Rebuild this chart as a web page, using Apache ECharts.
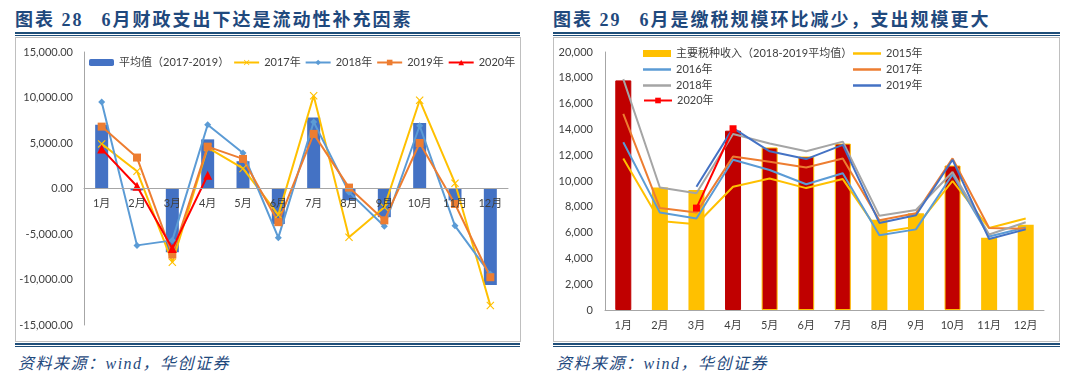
<!DOCTYPE html>
<html>
<head>
<meta charset="utf-8">
<script src="https://cdn.jsdelivr.net/npm/echarts@6/dist/echarts.min.js"></script>
<style>
  body { margin: 0; width: 1080px; height: 375px; background: #fff; position: relative; overflow: hidden; }
  .title { position: absolute; top: 5px; font: bold 18px "Liberation Serif", "Noto Sans CJK SC"; color: #1F497D; letter-spacing: 2px; white-space: nowrap; }
  .title .no { margin-right: 18px; }
  .rule { position: absolute; height: 0; }
  .box { position: absolute; top: 37px; height: 303px; border: 1px solid #BFBFBF; }
  .chart { position: absolute; top: 38px; width: 503px; height: 302px; }
  .src { position: absolute; top: 350px; font: italic 16px "Liberation Serif", "Noto Sans CJK SC"; color: #1F497D; letter-spacing: 1.5px; }
</style>
</head>
<body>
<div class="title" style="left:15px"><span class="no">图表 28</span>6月财政支出下达是流动性补充因素</div>
<div class="title" style="left:553px"><span class="no">图表 29</span>6月是缴税规模环比减少，支出规模更大</div>

<div class="rule" style="left:15px;width:505px;top:32px;border-top:2px solid #1F4E79"></div>
<div class="rule" style="left:15px;width:505px;top:35px;border-top:1px solid #1F4E79"></div>
<div class="rule" style="left:553px;width:507px;top:32px;border-top:2px solid #1F4E79"></div>
<div class="rule" style="left:553px;width:507px;top:35px;border-top:1px solid #1F4E79"></div>

<div class="box" style="left:15px;width:504px"></div>
<div class="box" style="left:553px;width:505px"></div>

<div class="rule" style="left:15px;width:505px;top:343px;border-top:2px solid #1F4E79"></div>
<div class="rule" style="left:15px;width:505px;top:346px;border-top:1px solid #1F4E79"></div>
<div class="rule" style="left:553px;width:507px;top:343px;border-top:2px solid #1F4E79"></div>
<div class="rule" style="left:553px;width:507px;top:346px;border-top:1px solid #1F4E79"></div>

<div id="left" class="chart" style="left:16px"></div>
<div id="right" class="chart" style="left:554px"></div>

<div class="src" style="left:18px">资料来源：wind，华创证券</div>
<div class="src" style="left:556px">资料来源：wind，华创证券</div>

<script>
// 月份
const months = ['1月', '2月', '3月', '4月', '5月', '6月', '7月', '8月', '9月', '10月', '11月', '12月'];

// 图表28：财政支出（亿元）
const avg1719 = [7000, -200, -7000, 5400, 3000, -3900, 7800, -1300, -3150, 7200, -1300, -10600];
const exp2017 = [4900, 1900, -8100, 4500, 2200, -2900, 10200, -5350, -2050, 9700, 580, -12850];
const exp2018 = [9500, -6250, -5700, 7000, 3900, -5400, 7300, -400, -4150, 6900, -4100, -9400];
const exp2019 = [6800, 3400, -7250, 4600, 3250, -3700, 6000, 100, -3500, 5000, -1700, -9750];
const exp2020 = [4350, 250, -6600, 1450];

// 图表29：主要税种收入（亿元）
const taxAvg = [17800, 9500, 9300, 13900, 12600, 11900, 12900, 7000, 7500, 11200, 5600, 6600];
const tax2015 = [11750, 6900, 6650, 9550, 10200, 9450, 10150, 6000, 6450, 10000, 6350, 7100];
const tax2016 = [13000, 7550, 7100, 11650, 10850, 9750, 10600, 5800, 6250, 10500, 5700, 6400];
const tax2017 = [15200, 7900, 7550, 11900, 11500, 11050, 11750, 6950, 7500, 11750, 6350, 6300];
const tax2018 = [17900, 9500, 9050, 13650, 12900, 12300, 13050, 7300, 7750, 10700, 5850, 6800];
const tax2019 = [null, null, 9550, 14100, 12300, 11700, 12800, 6750, 7350, 11650, 5500, 6250];
const tax2020 = [null, null, 7900, 14050];
// 缴税大月（柱子标红）
const bigMonths = [0, 3, 4, 5, 6, 9];

const FONT = 'Lato, "Noto Sans CJK SC", sans-serif';
const crossPath = 'path://M0,1L1,0L5,4L9,0L10,1L6,5L10,9L9,10L5,6L1,10L0,9L4,5Z';

/**
 * 图表28
 */
function initLeft() {
  const chart = echarts.init(document.getElementById('left'));
  const line = (name, data, color, symbol, size) => ({
    name: name,
    type: 'line',
    data: data,
    symbol: symbol,
    symbolSize: size,
    z: 3,
    lineStyle: { color: color, width: 2 },
    itemStyle: { color: color }
  });
  // 网格高 302-14-15=273，x轴挪到0刻度处
  let option = {
    animation: false,
    textStyle: { fontFamily: FONT },
    grid: { left: 68, right: 11, top: 14, bottom: 15 },
    legend: {
      left: 73,
      width: 430,
      top: 19,
      padding: 0,
      itemWidth: 25,
      itemHeight: 7,
      itemGap: 4,
      textStyle: { fontSize: 11, color: '#404040', fontFamily: FONT },
      data: ['平均值（2017-2019）', '2017年', '2018年', '2019年', '2020年']
    },
    xAxis: {
      type: 'category',
      data: months,
      offset: -136.5,
      z: 5,
      axisLine: { onZero: false, lineStyle: { color: '#A6A6A6' } },
      axisTick: { length: 4, lineStyle: { color: '#A6A6A6' } },
      axisLabel: { color: '#404040', fontSize: 11, margin: 9 }
    },
    yAxis: {
      type: 'value',
      min: -15000,
      max: 15000,
      interval: 5000,
      splitLine: { show: false },
      axisLine: { show: true, lineStyle: { color: '#A6A6A6' } },
      axisLabel: {
        color: '#404040',
        fontSize: 11,
        margin: 11,
        formatter: v => v.toLocaleString('en-US', { minimumFractionDigits: 2 })
      }
    },
    series: [
      {
        name: '平均值（2017-2019）',
        type: 'bar',
        data: avg1719,
        barWidth: 13,
        itemStyle: { color: '#4472C4' }
      },
      line('2017年', exp2017, '#FFC000', crossPath, 8),
      line('2018年', exp2018, '#5B9BD5', 'diamond', 7),
      line('2019年', exp2019, '#ED7D31', 'rect', 8),
      line('2020年', exp2020, '#FF0000', 'triangle', 9)
    ]
  };
  chart.setOption(option);
}

/**
 * 图表29
 */
function initRight() {
  const chart = echarts.init(document.getElementById('right'));
  const line = (name, data, color) => ({
    name: name,
    type: 'line',
    data: data,
    symbol: 'none',
    z: 3,
    lineStyle: { color: color, width: 2 },
    itemStyle: { color: color }
  });
  // 图例两列摆放：名称, left, top, 图标
  const legendPos = [
    ['主要税种收入（2018-2019平均值）', 89, 10, 'bar'],
    ['2015年', 299, 10, 'line'],
    ['2016年', 89, 26, 'line'],
    ['2017年', 299, 26, 'line'],
    ['2018年', 89, 42, 'line'],
    ['2019年', 299, 42, 'line'],
    ['2020年', 89, 57, 'mark']
  ];
  const legends = legendPos.map(p => {
    let lg = {
      data: [p[0]],
      left: p[1],
      top: p[2],
      padding: 0,
      itemWidth: 28,
      itemHeight: 7,
      textStyle: { fontSize: 11, color: '#404040', fontFamily: FONT }
    };
    if (p[3] == 'line') {
      lg.icon = 'rect';
      lg.itemHeight = 2.5;
    } else if (p[3] == 'bar') {
      lg.icon = 'rect';
    }
    return lg;
  });
  const barData = taxAvg.map((v, i) => bigMonths.includes(i)
    ? { value: v, itemStyle: { color: '#C00000', borderColor: i > 3 ? '#FFC000' : '#C00000', borderWidth: 1 } }
    : v);
  let option = {
    animation: false,
    textStyle: { fontFamily: FONT },
    grid: { left: 51, right: 13, top: 14, bottom: 30 },
    legend: legends,
    xAxis: {
      type: 'category',
      data: months,
      axisLine: { lineStyle: { color: '#A6A6A6' } },
      axisTick: { length: 5, lineStyle: { color: '#A6A6A6' } },
      axisLabel: { color: '#404040', fontSize: 11, margin: 10 }
    },
    yAxis: {
      type: 'value',
      min: 0,
      max: 20000,
      interval: 2000,
      splitLine: { show: false },
      axisLine: { show: true, lineStyle: { color: '#A6A6A6' } },
      axisLabel: {
        color: '#404040',
        fontSize: 11,
        margin: 12,
        formatter: v => v.toLocaleString('en-US')
      }
    },
    series: [
      {
        name: '主要税种收入（2018-2019平均值）',
        type: 'bar',
        data: barData,
        barWidth: 16,
        itemStyle: { color: '#FFC000' }
      },
      line('2015年', tax2015, '#FFC000'),
      line('2016年', tax2016, '#5B9BD5'),
      line('2017年', tax2017, '#ED7D31'),
      line('2018年', tax2018, '#A5A5A5'),
      line('2019年', tax2019, '#4472C4'),
      {
        name: '2020年',
        type: 'line',
        data: tax2020,
        symbol: 'rect',
        symbolSize: 7,
        z: 4,
        lineStyle: { color: '#FF0000', width: 2 },
        itemStyle: { color: '#FF0000' }
      }
    ]
  };
  chart.setOption(option);
}

initLeft();
initRight();
</script>
</body>
</html>
